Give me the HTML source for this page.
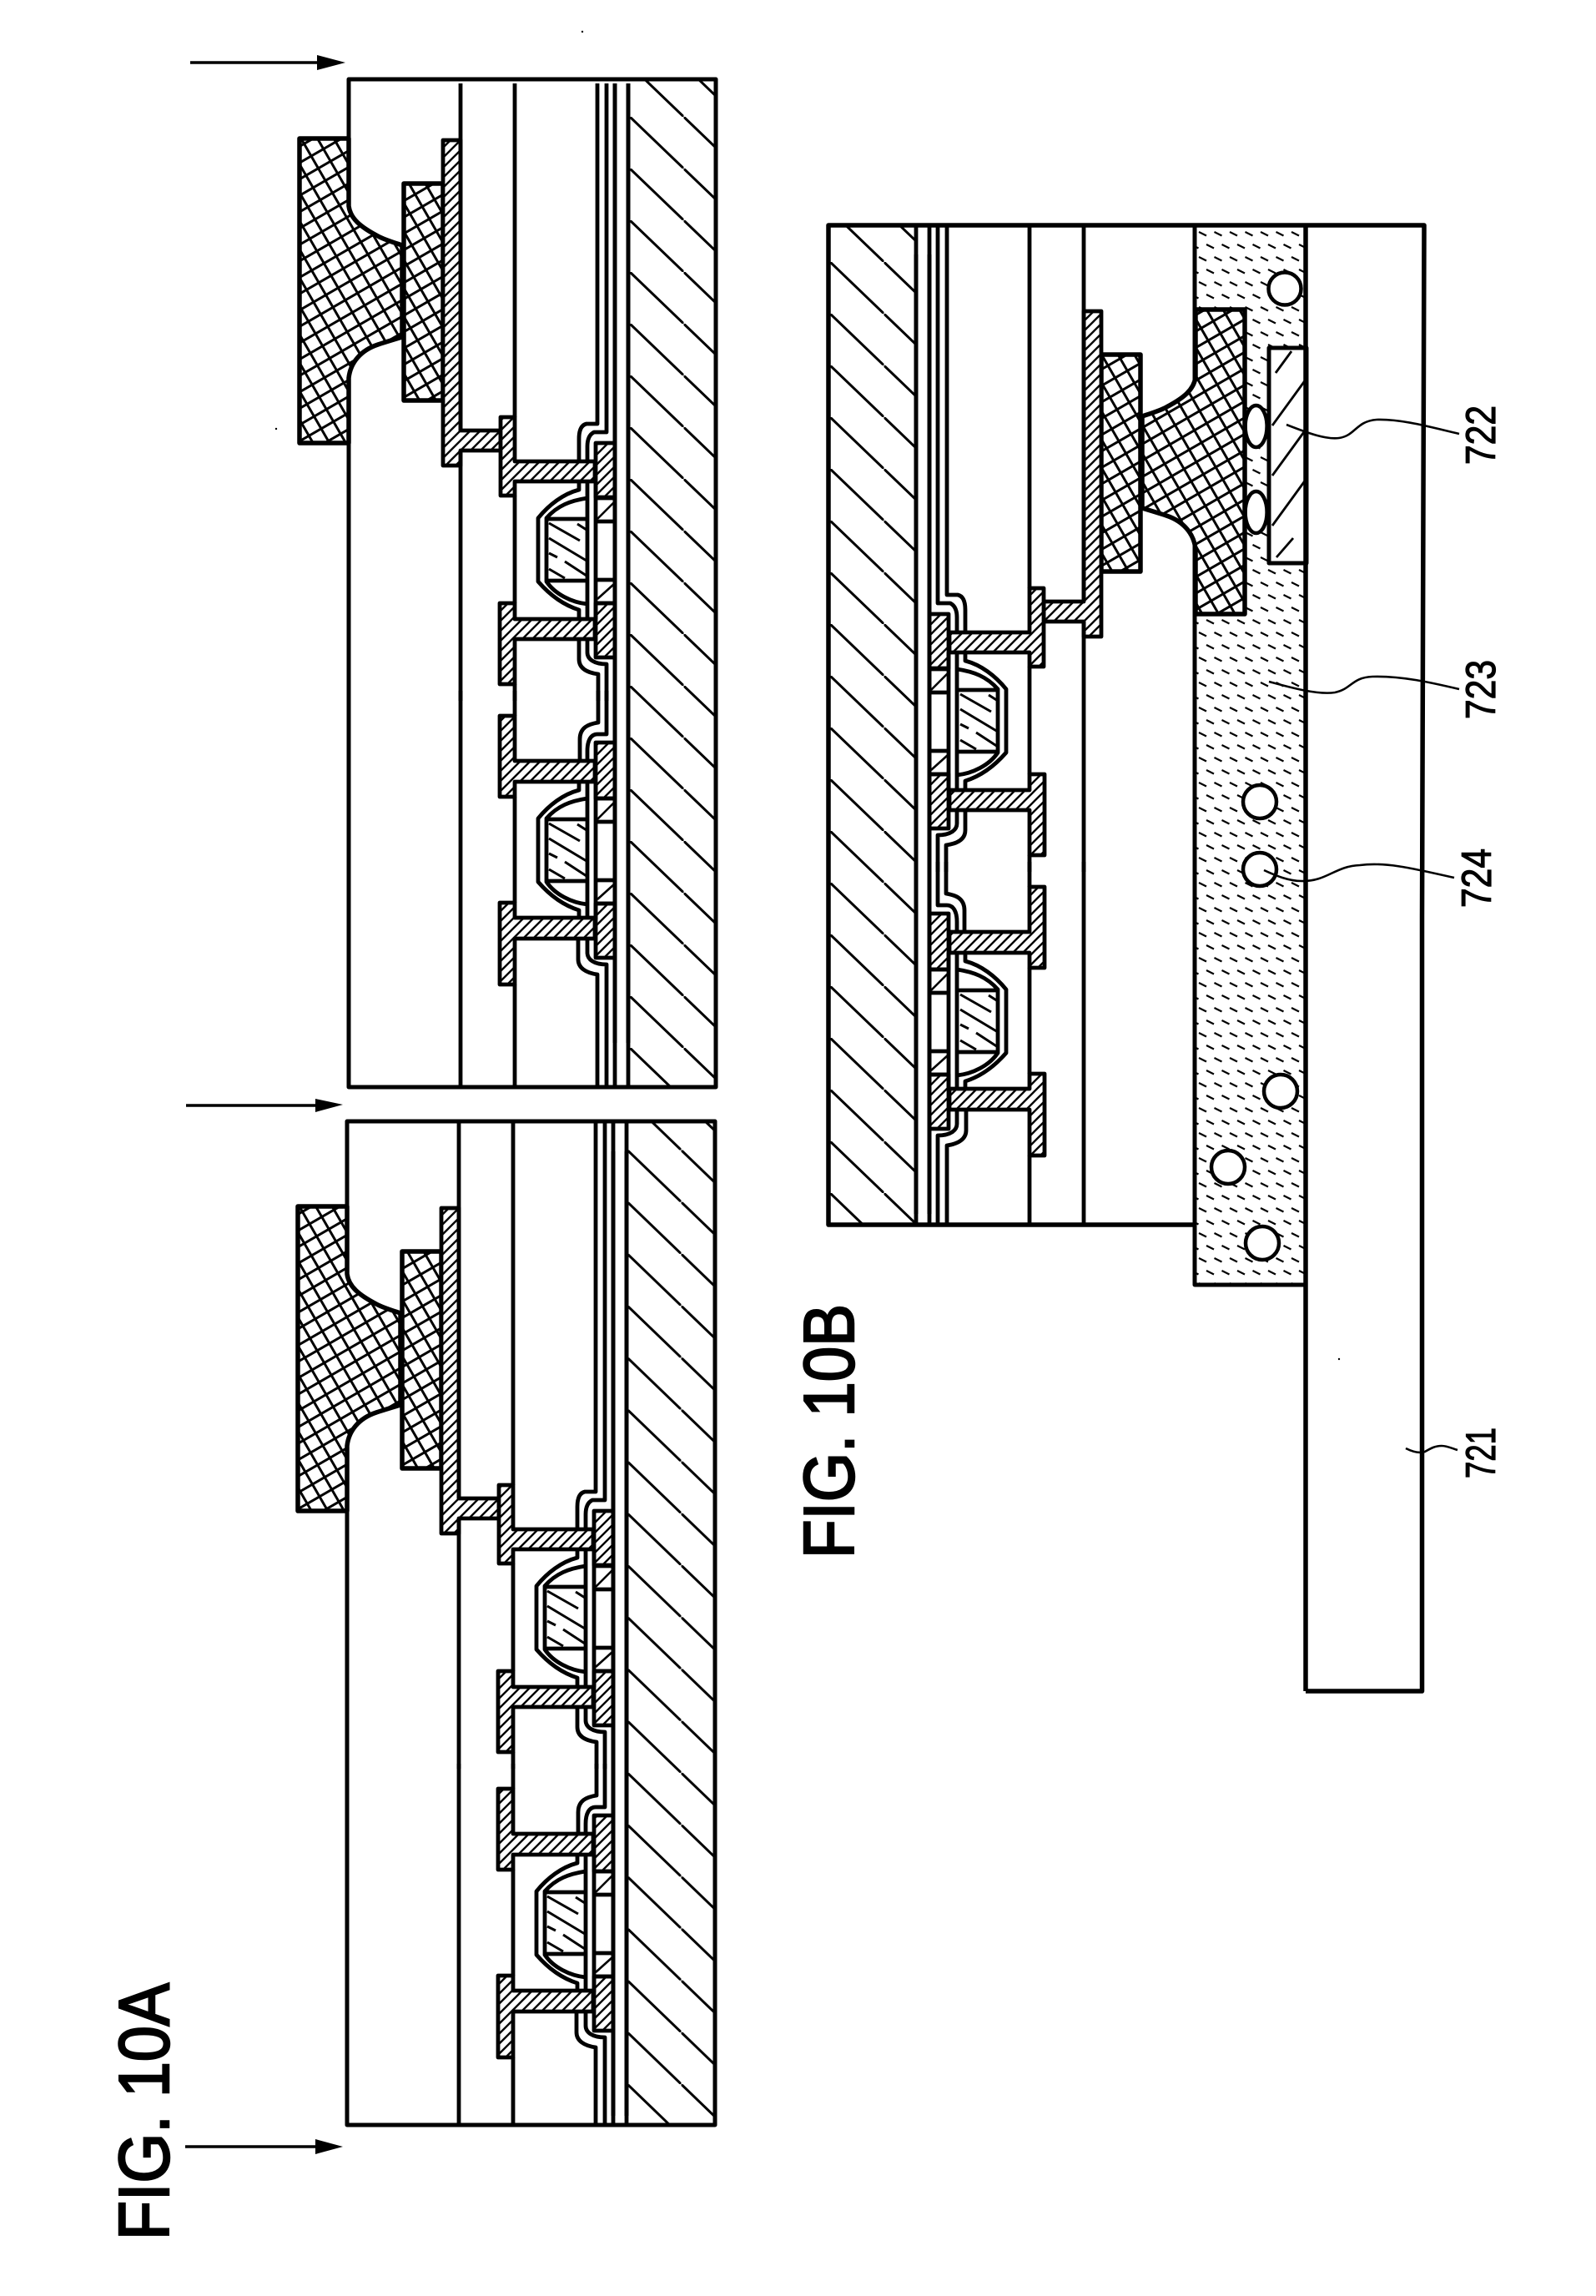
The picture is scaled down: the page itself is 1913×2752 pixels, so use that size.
<!DOCTYPE html>
<html lang="en">
<head>
<meta charset="utf-8">
<title>FIG. 10A and FIG. 10B</title>
<style>
html,body{margin:0;padding:0;background:#fff}
svg{display:block}
text{font-family:"Liberation Sans",sans-serif;fill:#000;stroke:#000}
</style>
</head>
<body>
<svg xmlns="http://www.w3.org/2000/svg" width="1913" height="2752" viewBox="0 0 1913 2752">
<defs>
  <pattern id="sh" patternUnits="userSpaceOnUse" width="12" height="12">
    <rect width="12" height="12" fill="#fff" stroke="none"/>
    <path d="M-1,13L13,-1M-2,2L2,-2M10,14L14,10" stroke="#000" stroke-width="2.4" fill="none"/>
  </pattern>
  <pattern id="shm" patternUnits="userSpaceOnUse" width="12" height="12" patternTransform="scale(-1,1)">
    <rect width="12" height="12" fill="#fff" stroke="none"/>
    <path d="M-1,13L13,-1M-2,2L2,-2M10,14L14,10" stroke="#000" stroke-width="2.4" fill="none"/>
  </pattern>
  <pattern id="xa" patternUnits="userSpaceOnUse" width="17" height="17" patternTransform="rotate(60)">
    <rect width="17" height="17" fill="#fff" stroke="none"/>
    <path d="M0,8.5H17M8.5,0V17" stroke="#000" stroke-width="3" fill="none"/>
  </pattern>
  <pattern id="xm" patternUnits="userSpaceOnUse" width="17" height="17" patternTransform="scale(-1,1) rotate(60)">
    <rect width="17" height="17" fill="#fff" stroke="none"/>
    <path d="M0,8.5H17M8.5,0V17" stroke="#000" stroke-width="3" fill="none"/>
  </pattern>
  <pattern id="s1" patternUnits="userSpaceOnUse" width="64.5" height="62" patternTransform="translate(755,78)">
    <rect width="64.5" height="62" fill="#fff" stroke="none"/>
    <path d="M-2,-1.92L66.5,63.9" stroke="#000" stroke-width="3" fill="none"/>
  </pattern>
  <pattern id="s2" patternUnits="userSpaceOnUse" width="64.5" height="62.2" patternTransform="translate(752,1378.5)">
    <rect width="64.5" height="62.2" fill="#fff" stroke="none"/>
    <path d="M-2,-1.92L66.5,64.1" stroke="#000" stroke-width="3" fill="none"/>
  </pattern>
  <pattern id="s3" patternUnits="userSpaceOnUse" width="64.5" height="62" patternTransform="translate(995,314)">
    <rect width="64.5" height="62" fill="#fff" stroke="none"/>
    <path d="M-2,-1.92L66.5,63.9" stroke="#000" stroke-width="3" fill="none"/>
  </pattern>
  <pattern id="dh" patternUnits="userSpaceOnUse" width="18.5" height="30" patternTransform="translate(1436,905)">
    <rect width="18.5" height="30" fill="#fff" stroke="none"/>
    <path d="M1,3L10,7.5M10,18L19,22.5M-8.5,18L0.5,22.5" stroke="#000" stroke-width="2.2" fill="none"/>
  </pattern>

  <g id="pads">
    <path d="M418,166L359,166L359,531L418,531L418,453C420,435 432,420 453,413C462,410 472,407 482,404L482,294C470,290 460,287 453,283C432,272 420,262 418,247Z"/>
    <rect x="484" y="220" width="47" height="260"/>
  </g>

  <!-- gate hatching, centred on x=679 -->
  <g id="gh" stroke-width="3" fill="none">
    <path d="M658,627L695,648M692,628L703,635M658,645L703,672M658,663L668,668M677,673L703,690M658,682L677,693"/>
  </g>
  <!-- LDD hatching, centred on x=725.5 -->
  <g id="ldh" stroke-width="2.6" fill="none">
    <path d="M716,622L736,602M716,718L736,700"/>
  </g>

  <g id="dome" fill="none">
    <path d="M694,577V587C675,592 658,605 645,621V697C658,712 675,725 694,731V742"/>
    <path d="M704,597C684,600 668,606 655,621V697C665,712 685,722 704,724"/>
    <path d="M655,622H704M655,696H704"/>
    <path d="M704,577V742M714,577V742"/>
    <path d="M714,597H737M714,625H737M714,695H737M714,723H737"/>
  </g>

  <g id="coreT">
    <path d="M531,168L552,168L552,516L600,516L600,540L552,540L552,558L531,558Z"/>
    <path d="M600,500H617V553H713V577H617V594H600Z"/>
    <path d="M599,723H617V742H713V766H617V820H599Z"/>
    <rect x="714" y="531" width="23" height="65"/>
    <rect x="714" y="723" width="23" height="65"/>
    <g fill="none">
      <path d="M552,100V516M552,540V840"/>
      <path d="M617,100V500M617,594V723M617,820V840"/>
      <path d="M737,100V840M753,100V840" stroke-width="5"/>
      <path d="M716,100V508H703Q694,510 694,526V553"/>
      <path d="M727,100V518H712Q704,522 704,535V553"/>
      <use href="#dome"/>
      <path d="M694,766V790C694,800 702,806 717,808V840"/>
      <path d="M704,766V782C704,790 712,796 727,796V840"/>
    </g>
  </g>

  <g id="coreB">
    <path d="M599,858H617V912H713V937H617V955H599Z"/>
    <path d="M599,1082H617V1100H713V1125H617V1180H599Z"/>
    <rect x="714" y="890" width="23" height="67"/>
    <rect x="714" y="1083" width="23" height="65"/>
    <g fill="none">
      <path d="M552,828V1250"/>
      <path d="M617,828V858M617,955V1082M617,1180V1250"/>
      <path d="M737,828V1250M753,828V1250" stroke-width="5"/>
      <path d="M717,828V866C705,868 695,872 695,886V912"/>
      <path d="M727,828V880H716C708,880 704,888 704,900V912"/>
      <use href="#dome" transform="translate(0,360)"/>
      <path d="M693,1125V1150C693,1160 702,1166 716,1168V1250"/>
      <path d="M704,1125V1142C704,1150 712,1156 727,1156V1250"/>
    </g>
  </g>
</defs>

<rect width="1913" height="2752" fill="#fff"/>

<g stroke="#000" stroke-width="4.8" stroke-linejoin="round" stroke-linecap="butt">

  <!-- Panel A1 -->
  <rect x="753" y="95" width="105" height="1208" fill="url(#s1)" stroke="none"/>
  <path d="M418,453V1303H858V95H418V247" fill="none" stroke-width="5"/>
  <use href="#pads" fill="url(#xa)" stroke-width="5.5"/>
  <g fill="url(#sh)">
    <use href="#coreT"/>
    <use href="#coreB"/>
  </g>
  <use href="#gh"/><use href="#ldh"/>
  <use href="#gh" transform="translate(0,360)"/><use href="#ldh" transform="translate(0,360)"/>
  <path d="M552,1250V1303M617,1250V1303M716,1250V1303M727,1250V1303M737,1250V1303M753,1250V1303" fill="none"/>

  <!-- Panel A2 -->
  <rect x="751" y="1344" width="106" height="1203" fill="url(#s2)" stroke="none"/>
  <path d="M416,1733V2547H857V1344H416V1527" fill="none" stroke-width="5"/>
  <g transform="translate(-2,1280)">
    <use href="#pads" fill="url(#xa)" stroke-width="5.5"/>
    <use href="#coreT" fill="url(#sh)"/>
    <use href="#gh"/><use href="#ldh"/>
    <path d="M552,64V100M617,64V100M716,64V100M727,64V100M737,64V100M753,64V100" fill="none"/>
  </g>
  <g transform="translate(-2,1286)">
    <use href="#coreB" fill="url(#sh)"/>
    <use href="#gh" transform="translate(0,360)"/><use href="#ldh" transform="translate(0,360)"/>
    <path d="M552,1250V1261M617,1250V1261M716,1250V1261M727,1250V1261M737,1250V1261M753,1250V1261" fill="none"/>
  </g>

  <!-- Panel B: adhesive, board, substrate -->
  <rect x="1432" y="270" width="133" height="1270" fill="url(#dh)" stroke="none"/>
  <rect x="993" y="270" width="105" height="1198" fill="url(#s3)" stroke="none"/>

  <!-- Chip 722 and bumps -->
  <rect x="1521" y="417" width="45" height="258" fill="#fff" stroke-width="5"/>
  <path d="M1529,447L1548,421M1525,510L1565,455M1525,570L1565,515M1525,630L1565,575M1530,668L1550,645" fill="none" stroke-width="2.8"/>
  <ellipse cx="1505.6" cy="511" rx="13" ry="25" fill="#fff" stroke-width="4.5"/>
  <ellipse cx="1505.6" cy="614" rx="13" ry="25" fill="#fff" stroke-width="4.5"/>

  <path d="M1432,1468H993V270H1707L1704.5,1100V2027H1565" fill="none" stroke-width="5.5"/>
  <path d="M1565,270V2027" fill="none" stroke-width="5.5"/>
  <path d="M1432,270V1540H1565" fill="none" stroke-width="5"/>

  <!-- Conductive particles -->
  <g fill="#fff" stroke-width="4.5">
    <circle cx="1540" cy="346" r="19.5"/>
    <circle cx="1510" cy="961" r="20"/>
    <circle cx="1510" cy="1042" r="20"/>
    <circle cx="1535" cy="1308" r="20"/>
    <circle cx="1472" cy="1399" r="20"/>
    <circle cx="1513" cy="1490" r="20"/>
  </g>

  <!-- Panel B: mirrored cross-section -->
  <g transform="translate(1851,205) scale(-1,1)">
    <use href="#pads" fill="url(#xm)" stroke-width="5.5"/>
    <use href="#coreT" fill="url(#shm)"/>
    <use href="#coreB" fill="url(#shm)"/>
    <use href="#gh" transform="translate(1358,0) scale(-1,1)"/>
    <use href="#ldh" transform="translate(1451,0) scale(-1,1)"/>
    <g transform="translate(0,360)">
      <use href="#gh" transform="translate(1358,0) scale(-1,1)"/>
      <use href="#ldh" transform="translate(1451,0) scale(-1,1)"/>
    </g>
    <path d="M552,65V100M617,65V100M716,65V100M727,65V100M737,65V100M753,65V100M552,1250V1263M617,1250V1263M716,1250V1263M727,1250V1263M737,1250V1263M753,1250V1263" fill="none"/>
  </g>

  <!-- Process arrows -->
  <g fill="none" stroke-width="3.5">
    <path d="M228,75H385M223,1325H385M222,2573H385"/>
  </g>
  <g stroke="none" fill="#000">
    <polygon points="380,66 414,75 380,84"/>
    <polygon points="378,1317 411,1324 378,1333"/>
    <polygon points="378,2564 411,2573 378,2582"/>
    <circle cx="698" cy="38" r="1.2"/>
    <circle cx="331" cy="514" r="1.2"/>
    <circle cx="1605" cy="1629" r="1.2"/>
  </g>

  <!-- Leader lines -->
  <g fill="none" stroke-width="2.6">
    <path d="M1542,509C1570,520 1590,527 1605,525C1625,522 1625,505 1650,503C1680,502 1715,512 1749,520"/>
    <path d="M1521,817C1550,825 1580,833 1600,830C1620,826 1620,812 1645,811C1680,810 1715,818 1749,826"/>
    <path d="M1515,1043C1530,1050 1545,1056 1560,1056C1590,1057 1600,1038 1630,1037C1660,1033 1690,1040 1743,1052"/>
    <path d="M1685,1736C1695,1741 1702,1742 1708,1740C1715,1736 1720,1733 1728,1733C1735,1733 1740,1736 1747,1738"/>
  </g>
</g>

<!-- Labels -->
<text transform="translate(202,2685) rotate(-90)" font-size="85" textLength="308" lengthAdjust="spacingAndGlyphs" stroke-width="2.5">FIG. 10A</text>
<text transform="translate(1023,1868) rotate(-90)" font-size="85" textLength="305" lengthAdjust="spacingAndGlyphs" stroke-width="2.5">FIG. 10B</text>
<text transform="translate(1792,557) rotate(-90)" font-size="50" textLength="71" lengthAdjust="spacingAndGlyphs" stroke-width="1.2">722</text>
<text transform="translate(1792,862) rotate(-90)" font-size="50" textLength="71" lengthAdjust="spacingAndGlyphs" stroke-width="1.2">723</text>
<text transform="translate(1787,1088) rotate(-90)" font-size="50" textLength="71" lengthAdjust="spacingAndGlyphs" stroke-width="1.2">724</text>
<text transform="translate(1792,1772) rotate(-90)" font-size="50" textLength="61" lengthAdjust="spacingAndGlyphs" stroke-width="1.2">721</text>
</svg>
</body>
</html>
